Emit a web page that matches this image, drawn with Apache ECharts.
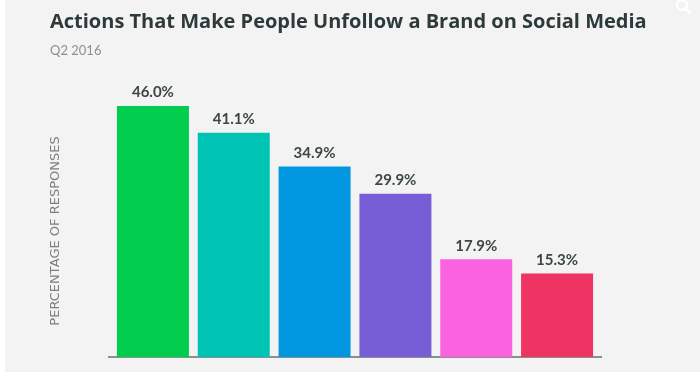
<!DOCTYPE html>
<html>
<head>
<meta charset="utf-8">
<script src="https://cdn.jsdelivr.net/npm/echarts@6/dist/echarts.min.js"></script>
<style>html,body{margin:0;padding:0;background:#fff}#c{width:700px;height:373px}</style>
</head>
<body>
<div id="c"></div>
<script>
var categories = ['A1', 'A2', 'A3', 'A4', 'A5', 'A6'];
var values = [46.0, 41.1, 34.9, 29.9, 17.9, 15.3];
var barColors = ['#00cc4e', '#00c4b3', '#0096e0', '#775dd6', '#fb62df', '#ef3363'];

var chart = echarts.init(document.getElementById('c'), null, {renderer: 'canvas'});
chart.setOption({
  backgroundColor: '#ffffff',
  animation: false,
  graphic: [
    {type: 'rect', z: -10, shape: {x: 5, y: 0, width: 695, height: 372}, style: {fill: '#f3f3f3'}},
    {type: 'text', left: 50, top: 12, style: {text: 'Actions That Make People Unfollow a Brand on Social Media', font: 'bold 20px "Open Sans"', fill: '#2e3a3a'}},
    {type: 'text', left: 50, top: 44, style: {text: 'Q2 2016', font: '13px Lato', fill: '#8a8f8f'}},
    {type: 'text', x: 56, y: 231, rotation: Math.PI / 2, style: {text: 'PERCENTAGE OF RESPONSES', font: '13px "DejaVu Sans"', fill: '#7a7f80', align: 'center', verticalAlign: 'middle'}},
    {type: 'line', shape: {x1: 108, y1: 357, x2: 602, y2: 357}, style: {stroke: '#8a9090', lineWidth: 2}},
    {type: 'circle', shape: {cx: 682, cy: 5, r: 5}, style: {fill: 'none', stroke: '#ffffff', lineWidth: 2.5}},
    {type: 'line', shape: {x1: 686, y1: 9, x2: 691, y2: 14}, style: {stroke: '#ffffff', lineWidth: 2.5}}
  ],
  grid: {left: 112.5, right: 102.5, top: 84.2, bottom: 16},
  xAxis: {
    type: 'category',
    data: categories,
    axisLine: {show: true, lineStyle: {color: '#8a9090', width: 2}},
    axisTick: {show: false},
    axisLabel: {show: false}
  },
  yAxis: {
    type: 'value',
    min: 0,
    max: 50,
    axisLine: {show: false},
    axisTick: {show: false},
    axisLabel: {show: false},
    splitLine: {show: false}
  },
  series: [{
    type: 'bar',
    data: values.map(function (v, i) { return {value: v, itemStyle: {color: barColors[i]}}; }),
    barWidth: 72,
    label: {
      show: true,
      position: 'top',
      distance: 6,
      formatter: function (p) { return p.value.toFixed(1) + '%'; },
      fontFamily: 'Lato',
      fontWeight: 'bold',
      fontSize: 15,
      color: '#3d4646'
    }
  }]
});
</script>
</body>
</html>
